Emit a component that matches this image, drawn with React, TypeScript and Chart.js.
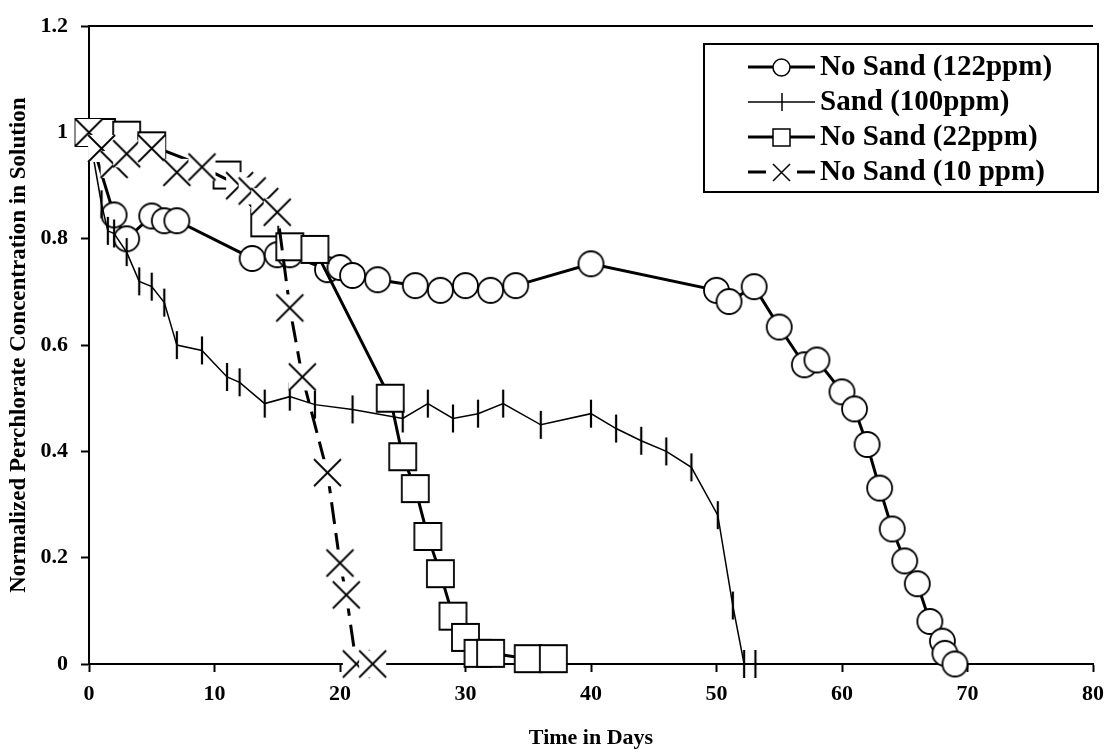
import React, { useEffect, useRef } from "react";
import { Chart, registerables } from "chart.js";

Chart.register(...registerables);

const FONT = '"Liberation Serif", "Times New Roman", serif';

const xTitle = "Time in Days";
const yTitle = "Normalized Perchlorate Concentration in Solution";
const dayTicks = [0, 10, 20, 30, 40, 50, 60, 70, 80];
const concTicks = [0, 0.2, 0.4, 0.6, 0.8, 1, 1.2];
const seriesNames = ["No Sand (122ppm)", "Sand (100ppm)", "No Sand (22ppm)", "No Sand (10 ppm)"];

// No Sand (122ppm)
const noSand122Days = [0, 2, 3, 5, 6, 7, 13, 15, 16, 19, 20, 21, 23, 26, 28, 30, 32, 34, 40, 50, 51, 53, 55, 57, 58, 60, 61, 62, 63, 64, 65, 66, 67, 68, 68.2, 69];
const noSand122Conc = [1.0, 0.845, 0.8, 0.843, 0.834, 0.834, 0.763, 0.77, 0.77, 0.742, 0.746, 0.731, 0.723, 0.712, 0.703, 0.712, 0.703, 0.712, 0.753, 0.703, 0.682, 0.71, 0.634, 0.563, 0.572, 0.512, 0.48, 0.413, 0.331, 0.254, 0.194, 0.151, 0.08, 0.043, 0.02, 0.0];

// Sand (100ppm)
const sand100Days = [0, 1, 1.5, 2, 3, 4, 5, 6, 7, 9, 11, 12, 14, 16, 18, 21, 25, 27, 29, 31, 33, 36, 40, 42, 44, 46, 48, 50.1, 51.3, 52.2, 53.1];
const sand100Conc = [1.0, 0.865, 0.815, 0.81, 0.775, 0.72, 0.71, 0.68, 0.6, 0.59, 0.54, 0.53, 0.49, 0.503, 0.488, 0.479, 0.462, 0.49, 0.462, 0.471, 0.49, 0.45, 0.471, 0.443, 0.42, 0.4, 0.37, 0.28, 0.11, 0.0, 0.0];

// No Sand (22ppm)
const noSand22Days = [0, 1, 3, 5, 11, 14, 16, 18, 24, 25, 26, 27, 28, 29, 30, 31, 32, 35, 37];
const noSand22Conc = [1.0, 1.0, 0.995, 0.975, 0.92, 0.83, 0.785, 0.78, 0.5, 0.39, 0.33, 0.24, 0.17, 0.09, 0.05, 0.02, 0.02, 0.01, 0.01];

// No Sand (10 ppm)
const noSand10Days = [0, 1, 2, 3, 5, 7, 9, 12, 13, 14, 15, 16, 17, 19, 20, 20.5, 21.3, 22.6];
const noSand10Conc = [1.0, 0.97, 0.94, 0.96, 0.97, 0.925, 0.935, 0.9, 0.89, 0.87, 0.85, 0.67, 0.54, 0.36, 0.19, 0.13, 0.0, 0.0];

const toPoints = (xs: number[], ys: number[]) => xs.map((x, i) => ({ x, y: ys[i] }));

type MarkerKind = "circle" | "square" | "cross" | "bar";

// Marker sprites: white-backed shapes with a black outline
function makeMarker(kind: MarkerKind, size: number, lw: number): HTMLCanvasElement {
  const pad = Math.ceil(lw) + 1;
  const dim = Math.ceil(size + 2 * pad);
  const c = document.createElement("canvas");
  c.width = dim;
  c.height = dim;
  const ctx = c.getContext("2d") as CanvasRenderingContext2D;
  const m = dim / 2;
  const h = size / 2;
  ctx.strokeStyle = "#000";
  ctx.fillStyle = "#fff";
  ctx.lineWidth = lw;
  ctx.beginPath();
  if (kind === "circle") {
    ctx.arc(m, m, h, 0, Math.PI * 2);
    ctx.fill();
    ctx.stroke();
  } else if (kind === "square") {
    ctx.rect(m - h, m - h, size, size);
    ctx.fill();
    ctx.stroke();
  } else if (kind === "cross") {
    ctx.fillRect(m - h, m - h, size, size);
    ctx.moveTo(m - h, m - h);
    ctx.lineTo(m + h, m + h);
    ctx.moveTo(m + h, m - h);
    ctx.lineTo(m - h, m + h);
    ctx.stroke();
  } else {
    ctx.moveTo(m, m - h);
    ctx.lineTo(m, m + h);
    ctx.stroke();
  }
  return c;
}

export default function App() {
  const canvasRef = useRef<HTMLCanvasElement | null>(null);

  useEffect(() => {
    document.body.style.margin = "0";
    const canvas = canvasRef.current;
    if (!canvas) return;

    const styles = [
      { kind: "circle" as MarkerKind, size: 25, lineWidth: 3, dash: [] as number[], legendSize: 17 },
      { kind: "bar" as MarkerKind, size: 28, lineWidth: 1.5, dash: [] as number[], legendSize: 18 },
      { kind: "square" as MarkerKind, size: 27, lineWidth: 3, dash: [] as number[], legendSize: 17 },
      { kind: "cross" as MarkerKind, size: 27, lineWidth: 3, dash: [22, 9], legendSize: 17 },
    ];
    const markers = styles.map((s) => makeMarker(s.kind, s.size, s.kind === "bar" ? 2.2 : 1.8));
    const legendMarkers = styles.map((s) => makeMarker(s.kind, s.legendSize, 1.5));

    const seriesData = [
      toPoints(noSand122Days, noSand122Conc),
      toPoints(sand100Days, sand100Conc),
      toPoints(noSand22Days, noSand22Conc),
      toPoints(noSand10Days, noSand10Conc),
    ];

    const overlay = {
      id: "overlay",
      beforeDatasetsDraw(chart: any) {
        // top edge of the plot frame
        const ctx: CanvasRenderingContext2D = chart.ctx;
        const { left, right, top } = chart.chartArea;
        ctx.save();
        ctx.strokeStyle = "#000";
        ctx.lineWidth = 2;
        ctx.beginPath();
        ctx.moveTo(left - 1, Math.round(top));
        ctx.lineTo(right, Math.round(top));
        ctx.stroke();
        ctx.restore();
      },
      afterDraw(chart: any) {
        const ctx: CanvasRenderingContext2D = chart.ctx;
        const { left, right, top, bottom } = chart.chartArea;
        ctx.save();
        ctx.fillStyle = "#000";
        ctx.font = `bold 22px ${FONT}`;
        ctx.textAlign = "center";
        ctx.textBaseline = "middle";
        ctx.fillText(xTitle, (left + right) / 2, 738);
        ctx.save();
        ctx.translate(19, (top + bottom) / 2);
        ctx.rotate(-Math.PI / 2);
        ctx.font = `bold 23px ${FONT}`;
        ctx.fillText(yTitle, 0, 0);
        ctx.restore();

        // legend box
        const bx = 704, by = 44, bw = 394, bh = 148;
        ctx.fillStyle = "#fff";
        ctx.fillRect(bx, by, bw, bh);
        ctx.strokeStyle = "#000";
        ctx.lineWidth = 2;
        ctx.strokeRect(bx, by, bw, bh);
        const rowY = [67, 102, 137, 172];
        const x0 = 748, x1 = 815, xm = (x0 + x1) / 2;
        seriesNames.forEach((name, i) => {
          const y = rowY[i];
          const st = styles[i];
          ctx.save();
          ctx.strokeStyle = "#000";
          ctx.lineWidth = st.lineWidth;
          ctx.beginPath();
          if (i === 3) {
            ctx.moveTo(x0, y);
            ctx.lineTo(x0 + 18, y);
            ctx.moveTo(x1 - 18, y);
            ctx.lineTo(x1, y);
          } else {
            ctx.moveTo(x0, y);
            ctx.lineTo(x1, y);
          }
          ctx.stroke();
          ctx.restore();
          const mk = legendMarkers[i];
          ctx.drawImage(mk, Math.round(xm - mk.width / 2), Math.round(y - mk.height / 2));
          ctx.fillStyle = "#000";
          ctx.font = `bold 29px ${FONT}`;
          ctx.textAlign = "left";
          ctx.textBaseline = "middle";
          ctx.fillText(name, 820, y + 1);
        });
        ctx.restore();
      },
    };

    const tickFont = { family: FONT, size: 22, weight: "bold" as const };

    const chart = new Chart(canvas, {
      type: "line",
      data: {
        datasets: seriesData.map((pts, i) => ({
          label: seriesNames[i],
          data: pts,
          borderColor: "#000",
          borderWidth: styles[i].lineWidth,
          borderDash: styles[i].dash,
          pointStyle: markers[i] as any,
          pointRadius: 10,
          pointHoverRadius: 10,
          tension: 0,
          fill: false,
          clip: false as any,
          order: 3 - i,
        })),
      },
      options: {
        animation: false,
        responsive: false,
        maintainAspectRatio: false,
        parsing: false as any,
        layout: { padding: { top: 22, right: 14, bottom: 0, left: 0 } },
        plugins: { legend: { display: false }, tooltip: { enabled: false } },
        events: [],
        scales: {
          x: {
            type: "linear",
            min: 0,
            max: 80,
            afterBuildTicks: (s: any) => {
              s.ticks = dayTicks.map((v) => ({ value: v }));
            },
            afterFit: (s: any) => {
              s.height = 89;
            },
            ticks: {
              color: "#000",
              font: tickFont,
              padding: 9,
              maxRotation: 0,
              autoSkip: false,
              callback: (v: any) => String(v),
            },
            grid: { drawOnChartArea: false, drawTicks: true, tickLength: 8, tickColor: "#000", tickWidth: 2 },
            border: { display: true, color: "#000", width: 2 },
          },
          y: {
            type: "linear",
            min: 0,
            max: 1.2,
            afterBuildTicks: (s: any) => {
              s.ticks = concTicks.map((v) => ({ value: v }));
            },
            afterFit: (s: any) => {
              s.width = 89;
            },
            ticks: {
              color: "#000",
              font: tickFont,
              padding: 13,
              autoSkip: false,
              callback: (v: any) => String(v),
            },
            grid: { drawOnChartArea: false, drawTicks: true, tickLength: 8, tickColor: "#000", tickWidth: 2 },
            border: { display: true, color: "#000", width: 2 },
          },
        },
      },
      plugins: [overlay],
    });

    return () => chart.destroy();
  }, []);

  return <canvas ref={canvasRef} width={1113} height={753} style={{ display: "block" }} />;
}
